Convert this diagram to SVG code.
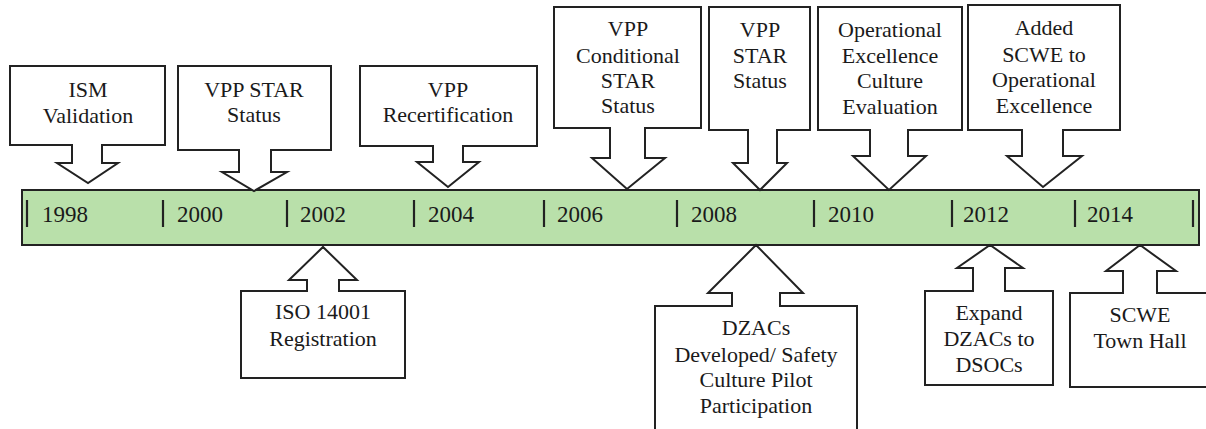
<svg xmlns="http://www.w3.org/2000/svg" width="1206" height="429" viewBox="0 0 1206 429">
<style>
.call{fill:#fff;stroke:#222;stroke-width:2;stroke-linejoin:miter}
.t{font-size:22px;fill:#1a1a1a;text-anchor:middle}
.yr{font-size:23px;fill:#1a1a1a}
.tick{stroke:#222;stroke-width:2.2}
</style>
<rect width="1206" height="429" fill="#fff"/>
<g font-family="Liberation Serif, DejaVu Serif, serif">
<g id="timeline">
<rect x="22" y="190" width="1177" height="55" fill="#b9e0aa" stroke="#222" stroke-width="2"/>
<g class="tick">
<line x1="27" y1="200" x2="27" y2="227"/>
<line x1="163" y1="200" x2="163" y2="227"/>
<line x1="287" y1="200" x2="287" y2="227"/>
<line x1="414" y1="200" x2="414" y2="227"/>
<line x1="544" y1="200" x2="544" y2="227"/>
<line x1="677" y1="200" x2="677" y2="227"/>
<line x1="814" y1="200" x2="814" y2="227"/>
<line x1="952" y1="200" x2="952" y2="227"/>
<line x1="1075" y1="200" x2="1075" y2="227"/>
<line x1="1193" y1="200" x2="1193" y2="227"/>
</g>
<text class="yr" x="42" y="222">1998</text>
<text class="yr" x="177" y="222">2000</text>
<text class="yr" x="300" y="222">2002</text>
<text class="yr" x="428" y="222">2004</text>
<text class="yr" x="557" y="222">2006</text>
<text class="yr" x="691" y="222">2008</text>
<text class="yr" x="828" y="222">2010</text>
<text class="yr" x="963" y="222">2012</text>
<text class="yr" x="1087" y="222">2014</text>
</g>
<g id="ism">
<path class="call" d="M10,66 H165 V145 H102 V163 H118 L88,183 L57,163 H72 V145 H10 Z"/>
<text class="t" x="88" y="97">ISM</text>
<text class="t" x="88" y="123">Validation</text>
</g>
<g id="vpp-star-2000">
<path class="call" d="M178,66 H331 V150 H271 V172 H287 L254,191 L222,172 H239 V150 H178 Z"/>
<text class="t" x="254" y="97">VPP STAR</text>
<text class="t" x="254" y="122">Status</text>
</g>
<g id="vpp-recert">
<path class="call" d="M360,66 H537 V146 H463 V162 H479 L448,187 L417,162 H433 V146 H360 Z"/>
<text class="t" x="448" y="97">VPP</text>
<text class="t" x="448" y="122">Recertification</text>
</g>
<g id="vpp-conditional">
<path class="call" d="M554,7 H701 V128 H645 V158 H665 L627,189 L592,158 H610 V128 H554 Z"/>
<text class="t" x="628" y="36">VPP</text>
<text class="t" x="628" y="63">Conditional</text>
<text class="t" x="628" y="88">STAR</text>
<text class="t" x="628" y="113">Status</text>
</g>
<g id="vpp-star-2008">
<path class="call" d="M709,7 H810 V130 H777 V163 H787 L760,190 L733,163 H748 V130 H709 Z"/>
<text class="t" x="760" y="37">VPP</text>
<text class="t" x="760" y="63">STAR</text>
<text class="t" x="760" y="88">Status</text>
</g>
<g id="opex-eval">
<path class="call" d="M818,7 H962 V130 H908 V156 H926 L889,190 L853,156 H870 V130 H818 Z"/>
<text class="t" x="890" y="37">Operational</text>
<text class="t" x="890" y="63">Excellence</text>
<text class="t" x="890" y="88">Culture</text>
<text class="t" x="890" y="114">Evaluation</text>
</g>
<g id="scwe-opex">
<path class="call" d="M968,5 H1120 V130 H1063 V156 H1082 L1043,187 L1007,156 H1022 V130 H968 Z"/>
<text class="t" x="1044" y="35">Added</text>
<text class="t" x="1044" y="62">SCWE to</text>
<text class="t" x="1044" y="87">Operational</text>
<text class="t" x="1044" y="113">Excellence</text>
</g>
<g id="iso14001">
<path class="call" d="M241,378 H405 V291 H339 V280 H357 L323,247 L289,280 H307 V291 H241 Z"/>
<text class="t" x="323" y="319">ISO 14001</text>
<text class="t" x="323" y="346">Registration</text>
</g>
<g id="dzacs">
<path class="call" d="M655,440 H857 V306 H780 V293 H803 L756,245 L708,293 H732 V306 H655 Z"/>
<text class="t" x="756" y="335">DZACs</text>
<text class="t" x="756" y="362">Developed/ Safety</text>
<text class="t" x="756" y="387">Culture Pilot</text>
<text class="t" x="756" y="413">Participation</text>
</g>
<g id="expand-dsocs">
<path class="call" d="M925,385 H1053 V291 H1005 V268 H1023 L990,245 L957,268 H973 V291 H925 Z"/>
<text class="t" x="989" y="320">Expand</text>
<text class="t" x="989" y="346">DZACs to</text>
<text class="t" x="989" y="372">DSOCs</text>
</g>
<g id="scwe-townhall">
<path class="call" d="M1070,387 H1215 V293 H1157 V271 H1176 L1140,245 L1106,271 H1123 V293 H1070 Z"/>
<text class="t" x="1140" y="322">SCWE</text>
<text class="t" x="1140" y="348">Town Hall</text>
</g>
</g>
</svg>
